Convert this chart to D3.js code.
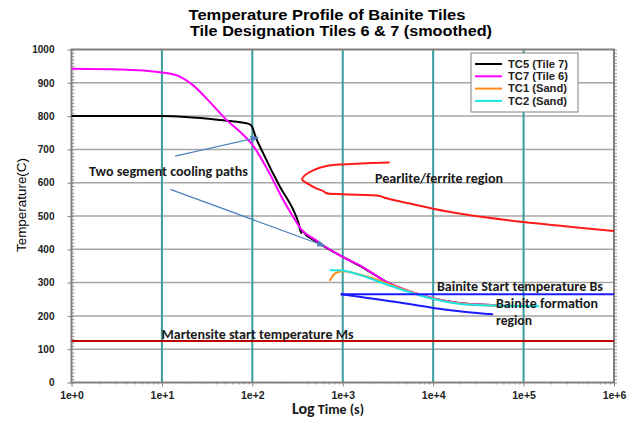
<!DOCTYPE html>
<html>
<head>
<meta charset="utf-8">
<script src="https://cdn.jsdelivr.net/npm/d3@7"></script>
<style>
  body { margin: 0; background: #fff; }
  svg text { font-family: "Liberation Sans", Arial, sans-serif; }
  .note { font-family: Carlito, Calibri, Lato, sans-serif; font-size: 13.5px; font-weight: 600; fill: #1a1a1a; }
</style>
</head>
<body>
<div id="chart"></div>
<script>
// ---- data: [time (s), temperature (C)] ----
var tc5 = [[1, 800], [10, 800], [44, 788], [80, 780], [94, 775], [100, 767], [107, 743], [132, 688],
    [202, 588], [284, 518], [322, 482], [348, 449], [356, 455], [400, 441],
    [470, 429], [600, 411], [1000, 377], [1800, 340], [3000, 303], [5000, 277], [10000, 252],
    [20000, 238], [50000, 232]]
var tc7 = [[1, 942], [3.5, 940], [10, 931], [16, 918], [22, 893], [34, 842], [52, 788], [75, 750],
    [100, 714], [157, 625], [220, 548], [297, 488], [351, 458], [470, 433], [600, 413], [1000, 377],
    [1690, 346], [3000, 303], [5000, 278], [10000, 253], [20000, 238], [50000, 232]]
var tc1 = [[720, 305], [780, 322], [890, 332], [1000, 334], [1310, 329], [1810, 319], [2560, 306],
    [3000, 299], [5000, 277], [10000, 252], [20000, 237], [50000, 231]]
var tc2 = [[720, 337], [930, 337], [1310, 329], [1810, 317], [2560, 302], [4270, 281], [10000, 251],
    [20000, 236], [50000, 231], [150000, 229]]

// pearlite/ferrite nose, traced from its upper end round to the right edge
var pearlite = [[3300, 661], [1400, 657], [1000, 655], [660, 650], [470, 637], [380, 622], [355, 610],
    [410, 597], [515, 582], [610, 575], [650, 569], [1000, 565], [2560, 560], [2900, 555], [5000, 540],
    [10000, 522], [21000, 506], [100000, 482], [270000, 470], [1000000, 455]]
var bainiteStart = [[950, 265], [1000000, 265]]
var bainiteEnd = [[950, 265], [4270, 240], [10000, 224], [23000, 212], [46000, 205]]
var martensite = [[1, 125], [1000000, 125]]

// arrows: [from, to]
var arrows = [[[14, 680], [116, 736]], [[12.4, 580], [633, 410]]]

var series = ["TC5 (Tile 7)", "TC7 (Tile 6)", "TC1 (Sand)", "TC2 (Sand)"]
var seriesColors = ["#000000", "#ff00ff", "#ff8c1a", "#1ae6e6"]

var xTicks = [1, 10, 100, 1000, 10000, 100000, 1000000]
var xTickLabels = ["1e+0", "1e+1", "1e+2", "1e+3", "1e+4", "1e+5", "1e+6"]
var yTicks = [0, 100, 200, 300, 400, 500, 600, 700, 800, 900, 1000]

var notes = [
    { text: "Two segment cooling paths", t: 1.56, temp: 620, w: 159 },
    { text: "Pearlite/ferrite region", t: 2275, temp: 599, w: 128 },
    { text: "Bainite Start temperature Bs", t: 11000, temp: 274, w: 166 },
    { text: "Bainite formation", t: 49500, temp: 223, w: 102 },
    { text: "region", t: 49500, temp: 172, w: 36 },
    { text: "Martensite start temperature Ms", t: 9.9, temp: 130, w: 192 }
]

// ---- layout ----
var W = 634, H = 421
var padL = 71.5, padR = 614, padT = 49.5, padB = 382.5

var x = d3.scaleLog().domain([1, 1e6]).range([padL, padR])
var y = d3.scaleLinear().domain([0, 1000]).range([padB, padT])

var svg = d3.select("#chart").append("svg")
    .attr("width", W)
    .attr("height", H)

svg.append("defs").append("marker")
    .attr("id", "head")
    .attr("viewBox", "0 0 10 10")
    .attr("refX", 9)
    .attr("refY", 5)
    .attr("markerWidth", 7)
    .attr("markerHeight", 7)
    .attr("orient", "auto")
    .append("path")
    .attr("d", "M0,1 L10,5 L0,9 z")
    .attr("fill", "#4f81bd")

// horizontal grid
svg.append("g").selectAll("line")
    .data(yTicks.slice(1, -1))
    .join("line")
    .attr("x1", padL).attr("x2", padR)
    .attr("y1", d => y(d)).attr("y2", d => y(d))
    .attr("stroke", "#a6a6a6")
    .attr("stroke-width", 1.5)

// vertical teal grid at each decade
svg.append("g").selectAll("line")
    .data(xTicks.slice(1, -1))
    .join("line")
    .attr("x1", d => x(d)).attr("x2", d => x(d))
    .attr("y1", padT).attr("y2", padB)
    .attr("stroke", "#3a9c9c")
    .attr("stroke-width", 2)

// axes
var minorX = []
xTicks.slice(0, -1).forEach(function (d) {
    for (var k = 2; k < 10; k++) minorX.push(d * k)
})

var yAxis = svg.append("g")
    .attr("transform", "translate(" + padL + ",0)")
    .call(d3.axisLeft(y).tickValues(yTicks).tickSize(4).tickPadding(13).tickFormat(d3.format("d")))
yAxis.select(".domain").remove()
yAxis.selectAll("text").attr("font-size", 10).attr("font-weight", "bold").attr("fill", "#222")
yAxis.selectAll("line").attr("stroke", "#808080")

svg.append("g")
    .attr("transform", "translate(" + padL + ",0)")
    .call(d3.axisLeft(y).tickValues(d3.range(0, 1001, 10)).tickSize(-3).tickFormat(""))
    .call(g => g.select(".domain").remove())
    .selectAll("line").attr("stroke", "#999")

svg.append("g")
    .attr("transform", "translate(" + padR + ",0)")
    .call(d3.axisRight(y).tickValues(d3.range(0, 1001, 10)).tickSize(3).tickFormat(""))
    .call(g => g.select(".domain").remove())
    .selectAll("line").attr("stroke", "#999")

var xAxis = svg.append("g")
    .attr("transform", "translate(0," + padB + ")")
    .call(d3.axisBottom(x).tickValues(xTicks).tickSize(4).tickPadding(5).tickFormat((d, i) => xTickLabels[i]))
xAxis.select(".domain").remove()
xAxis.selectAll("text").attr("font-size", 10.5).attr("font-weight", "bold").attr("fill", "#222")
xAxis.selectAll("line").attr("stroke", "#808080")

svg.append("g")
    .attr("transform", "translate(0," + padB + ")")
    .call(d3.axisBottom(x).tickValues(minorX).tickSize(2).tickFormat(""))
    .call(g => g.select(".domain").remove())
    .selectAll("line").attr("stroke", "#999")

// frame
svg.append("rect")
    .attr("x", padL).attr("y", padT)
    .attr("width", padR - padL).attr("height", padB - padT)
    .attr("fill", "none")
    .attr("stroke", "#808080")
    .attr("stroke-width", 2)

// curves
var smooth = d3.line()
    .x(d => x(d[0]))
    .y(d => y(d[1]))
    .curve(d3.curveMonotoneX)

var loop = d3.line()
    .x(d => x(d[0]))
    .y(d => y(d[1]))
    .curve(d3.curveCatmullRom.alpha(0.5))

svg.append("path").datum(martensite)
    .attr("d", smooth).attr("fill", "none")
    .attr("stroke", "#c00000").attr("stroke-width", 2)

svg.append("path").datum(pearlite)
    .attr("d", loop).attr("fill", "none")
    .attr("stroke", "#ff1a1a").attr("stroke-width", 2)

;[tc5, tc7, tc1, tc2].forEach(function (s, i) {
    svg.append("path").datum(s)
        .attr("d", smooth).attr("fill", "none")
        .attr("stroke", seriesColors[i]).attr("stroke-width", 2)
})

;[bainiteStart, bainiteEnd].forEach(function (s) {
    svg.append("path").datum(s)
        .attr("d", smooth).attr("fill", "none")
        .attr("stroke", "#1a1aff").attr("stroke-width", 2)
})

svg.append("g").selectAll("line")
    .data(arrows)
    .join("line")
    .attr("x1", d => x(d[0][0])).attr("y1", d => y(d[0][1]))
    .attr("x2", d => x(d[1][0])).attr("y2", d => y(d[1][1]))
    .attr("stroke", "#4f81bd")
    .attr("stroke-width", 1.2)
    .attr("marker-end", "url(#head)")

// annotation texts
svg.append("g").selectAll("text")
    .data(notes)
    .join("text")
    .attr("class", "note")
    .attr("x", d => x(d.t))
    .attr("y", d => y(d.temp))
    .attr("textLength", d => d.w)
    .attr("lengthAdjust", "spacingAndGlyphs")
    .text(d => d.text)

// titles
svg.append("text")
    .attr("x", 327).attr("y", 20)
    .attr("text-anchor", "middle")
    .attr("font-size", 14.5).attr("font-weight", "bold")
    .attr("textLength", 277).attr("lengthAdjust", "spacingAndGlyphs")
    .text("Temperature Profile of Bainite Tiles")
svg.append("text")
    .attr("x", 341).attr("y", 36)
    .attr("text-anchor", "middle")
    .attr("font-size", 14.5).attr("font-weight", "bold")
    .attr("textLength", 302).attr("lengthAdjust", "spacingAndGlyphs")
    .text("Tile Designation Tiles 6 & 7 (smoothed)")

svg.append("text")
    .attr("transform", "translate(26," + 205 + ") rotate(-90)")
    .attr("text-anchor", "middle")
    .attr("font-size", 13)
    .attr("textLength", 94).attr("lengthAdjust", "spacingAndGlyphs")
    .text("Temperature(C)")

var xl = svg.append("text")
    .attr("x", 328).attr("y", 414)
    .attr("text-anchor", "middle")
    .attr("class", "note")
    .attr("font-weight", "bold")
xl.append("tspan").style("font-size", "16px").text("Log")
xl.append("tspan").style("font-size", "14px").text(" Time (s)")

// legend
var legend = svg.append("g").attr("transform", "translate(471,53)")
legend.append("rect")
    .attr("width", 107).attr("height", 59)
    .attr("fill", "#fff")
    .attr("stroke", "#808080")
    .attr("stroke-width", 1)
var row = legend.selectAll("g.row")
    .data(series)
    .join("g")
    .attr("class", "row")
    .attr("transform", (d, i) => "translate(0," + (11 + i * 12.3) + ")")
row.append("line")
    .attr("x1", 4).attr("x2", 31)
    .attr("stroke", (d, i) => seriesColors[i])
    .attr("stroke-width", 2)
row.append("text")
    .attr("x", 37).attr("y", 3.8)
    .attr("font-size", 10.5).attr("font-weight", "bold")
    .attr("fill", "#222")
    .attr("textLength", (d, i) => i < 2 ? 60 : 59)
    .attr("lengthAdjust", "spacingAndGlyphs")
    .text(d => d)
</script>
</body>
</html>
